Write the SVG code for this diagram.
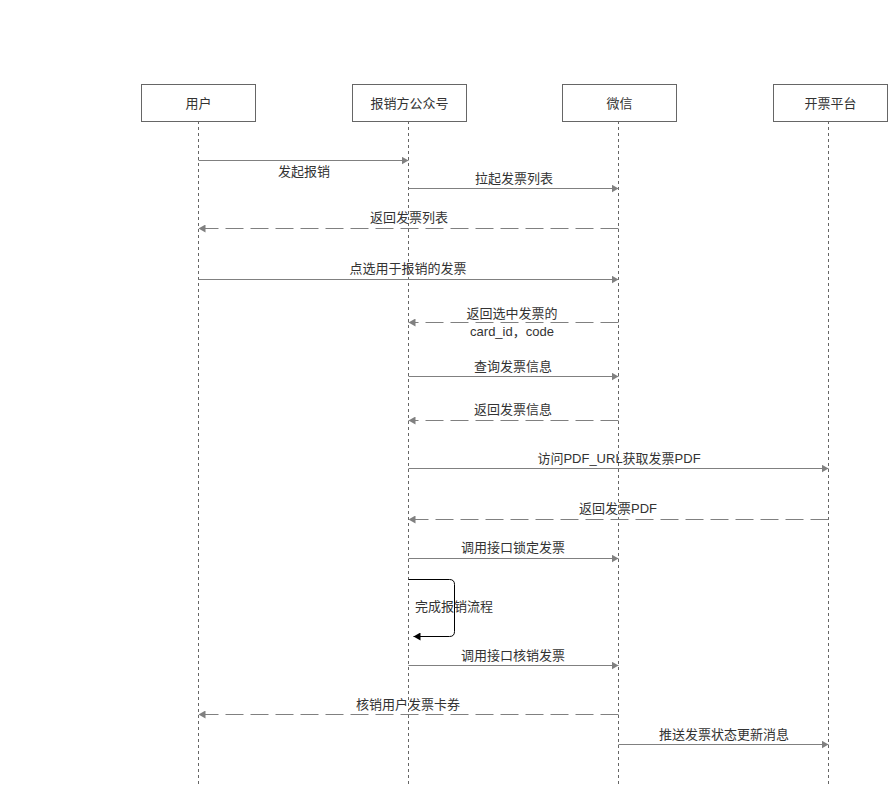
<svg xmlns="http://www.w3.org/2000/svg" width="888" height="786" viewBox="0 0 888 786">
<style>
.box{fill:#fff;stroke:#666;stroke-width:1}
.life{stroke:#666;stroke-width:1;stroke-dasharray:3 3;fill:none}
.msg{stroke:#808080;stroke-width:1;fill:none}
.ret{stroke:#808080;stroke-width:1;fill:none;stroke-dasharray:18 7}
.t{font-family:"Liberation Sans","Noto Sans CJK SC",sans-serif;font-size:13px;fill:#333;text-anchor:middle}
.tl{text-anchor:start}
</style>
<defs>
<marker id="ah" markerWidth="8" markerHeight="8" refX="7" refY="4" orient="auto" markerUnits="userSpaceOnUse">
<path d="M0,0 L7,4 L0,8 Z" fill="#808080"/>
</marker>
<marker id="ahb" markerWidth="8" markerHeight="8" refX="7" refY="4" orient="auto" markerUnits="userSpaceOnUse">
<path d="M0,0 L7,4 L0,8 Z" fill="#000"/>
</marker>
</defs>
<rect width="888" height="786" fill="#fff"/>
<g id="lifelines">
<line class="life" x1="198.5" y1="121" x2="198.5" y2="786"/>
<line class="life" x1="408.5" y1="121" x2="408.5" y2="786"/>
<line class="life" x1="618.5" y1="121" x2="618.5" y2="786"/>
<line class="life" x1="828.5" y1="121" x2="828.5" y2="786"/>
</g>
<g id="node-user"><rect class="box" x="141.5" y="84.5" width="114" height="37"/><text class="t" x="198.5" y="107.5">用户</text></g>
<g id="node-gzh"><rect class="box" x="352.5" y="84.5" width="114" height="37"/><text class="t" x="409.5" y="107.5">报销方公众号</text></g>
<g id="node-wx"><rect class="box" x="562.5" y="84.5" width="114" height="37"/><text class="t" x="619.5" y="107.5">微信</text></g>
<g id="node-kp"><rect class="box" x="773.5" y="84.5" width="114" height="37"/><text class="t" x="830.5" y="107.5">开票平台</text></g>
<g id="connectors">
<path class="msg" d="M198.5,160.5 H408.5" marker-end="url(#ah)"/>
<text class="t" x="304" y="176">发起报销</text>
<path class="msg" d="M408.5,188.5 H618.5" marker-end="url(#ah)"/>
<text class="t" x="514" y="183">拉起发票列表</text>
<path class="ret" d="M618.5,228.5 H198.5" marker-end="url(#ah)"/>
<text class="t" x="409" y="222">返回发票列表</text>
<path class="msg" d="M198.5,279.5 H618.5" marker-end="url(#ah)"/>
<text class="t" x="408" y="273">点选用于报销的发票</text>
<path class="ret" d="M618.5,322.5 H408.5" marker-end="url(#ah)"/>
<text class="t" x="512" y="318">返回选中发票的</text>
<text class="t" x="512" y="336">card_id，code</text>
<path class="msg" d="M408.5,376.5 H618.5" marker-end="url(#ah)"/>
<text class="t" x="513" y="371">查询发票信息</text>
<path class="ret" d="M618.5,420.5 H408.5" marker-end="url(#ah)"/>
<text class="t" x="513" y="414">返回发票信息</text>
<path class="msg" d="M408.5,468.5 H828.5" marker-end="url(#ah)"/>
<text class="t" x="619" y="463">访问PDF_URL获取发票PDF</text>
<path class="ret" d="M828.5,519.5 H408.5" marker-end="url(#ah)"/>
<text class="t" x="618" y="513">返回发票PDF</text>
<path class="msg" d="M408.5,558.5 H618.5" marker-end="url(#ah)"/>
<text class="t" x="513" y="552">调用接口锁定发票</text>
<path d="M408.5,579.5 H449.5 Q454.5,579.5 454.5,584.5 V631.5 Q454.5,636.5 449.5,636.5 H413.5" fill="none" stroke="#000" stroke-width="1" marker-end="url(#ahb)"/>
<text class="t tl" x="415" y="611">完成报销流程</text>
<path class="msg" d="M408.5,665.5 H618.5" marker-end="url(#ah)"/>
<text class="t" x="513" y="660">调用接口核销发票</text>
<path class="ret" d="M618.5,714.5 H198.5" marker-end="url(#ah)"/>
<text class="t" x="408" y="709">核销用户发票卡券</text>
<path class="msg" d="M618.5,744.5 H828.5" marker-end="url(#ah)"/>
<text class="t" x="724" y="739">推送发票状态更新消息</text>
</g>
</svg>
